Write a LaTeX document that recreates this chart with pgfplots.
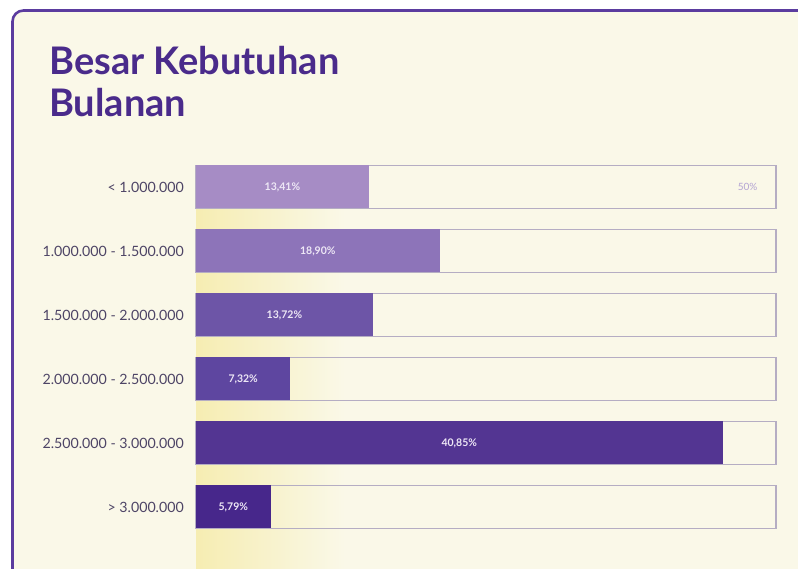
\documentclass[border=0pt]{standalone}
\usepackage{pgfplots}
\pgfplotsset{compat=1.18}
\usepackage{pgfplotstable}
\usepackage{fontspec}
\setmainfont{Lato}
\definecolor{bg}{HTML}{FAF8E8}
\definecolor{cardborder}{HTML}{5B3C9F}
\definecolor{titlec}{HTML}{4A2B8B}
\definecolor{catc}{HTML}{4E4566}
\definecolor{boxc}{HTML}{B5ADC3}
\definecolor{ca}{HTML}{A68CC5}
\definecolor{cb}{HTML}{8D74B9}
\definecolor{cc}{HTML}{6D55A7}
\definecolor{cd}{HTML}{5E46A0}
\definecolor{ce}{HTML}{533592}
\definecolor{cf}{HTML}{47278B}
\definecolor{ylw}{HTML}{F6EDB2}
\definecolor{vlab}{HTML}{EEE8F6}
\definecolor{fiftyc}{HTML}{B3A3D3}
\pgfplotstableread{
row v
0 13.41
1 18.90
2 13.72
3 7.32
4 40.85
5 5.79
}\datatab
\begin{document}
\begin{tikzpicture}[x=1pt,y=1pt]
\useasboundingbox (0,0) rectangle (798,569);
\clip (0,0) rectangle (798,569);
\fill[white] (0,0) rectangle (798,569);
\draw[cardborder, line width=2.6pt, fill=bg, rounded corners=11pt] (12.5,-30) rectangle (830,558.5);
\shade[left color=ylw, right color=bg] (196,0) rectangle (345,403);
\node[anchor=base west, inner sep=0pt, text=titlec, font=\fontsize{38}{44}\selectfont\bfseries] at (49,494) {Besar Kebutuhan};
\node[anchor=base west, inner sep=0pt, text=titlec, font=\fontsize{38}{44}\selectfont\bfseries] at (49,452) {Bulanan};
\begin{axis}[
  at={(196pt,30pt)}, anchor=south west,
  scale only axis, width=580pt, height=384pt,
  xmin=0, xmax=45, ymin=-0.5, ymax=5.5,
  y dir=reverse,
  axis line style={draw=none},
  xtick=\empty,
  ytick={0,1,2,3,4,5},
  yticklabels={{< 1.000.000},{1.000.000 - 1.500.000},{1.500.000 - 2.000.000},{2.000.000 - 2.500.000},{2.500.000 - 3.000.000},{> 3.000.000}},
  major tick length=0pt,
  yticklabel style={font=\fontsize{14.2}{16}\selectfont, text=catc, anchor=east, inner sep=0pt, xshift=-12pt},
  clip=false,
]
\addplot[xbar, bar width=43pt, bar shift=0pt, draw=boxc, line width=1.3pt, fill=none] coordinates {(45,0) (45,1) (45,2) (45,3) (45,4) (45,5)};
\addplot[xbar, bar width=43pt, bar shift=0pt, fill=ca, draw=none] coordinates {(13.41,0)};
\addplot[xbar, bar width=43pt, bar shift=0pt, fill=cb, draw=none] coordinates {(18.90,1)};
\addplot[xbar, bar width=43pt, bar shift=0pt, fill=cc, draw=none] coordinates {(13.72,2)};
\addplot[xbar, bar width=43pt, bar shift=0pt, fill=cd, draw=none] coordinates {(7.32,3)};
\addplot[xbar, bar width=43pt, bar shift=0pt, fill=ce, draw=none] coordinates {(40.85,4)};
\addplot[xbar, bar width=43pt, bar shift=0pt, fill=cf, draw=none] coordinates {(5.79,5)};
\addplot[draw=none, mark=none, point meta=explicit,
  nodes near coords={\pgfmathprintnumber[fixed, fixed zerofill, precision=2, use comma, assume math mode=true]{\pgfplotspointmeta}\%},
  every node near coord/.style={anchor=center, font=\fontsize{10.5}{12}\selectfont\bfseries, text=vlab, inner sep=0pt}]
  table[x expr=\thisrow{v}/2, y=row, meta=v] {\datatab};
\node[anchor=center, font=\fontsize{10}{12}\selectfont, text=fiftyc] at (axis cs:42.8,0) {50\%};
\end{axis}
\end{tikzpicture}
\end{document}
